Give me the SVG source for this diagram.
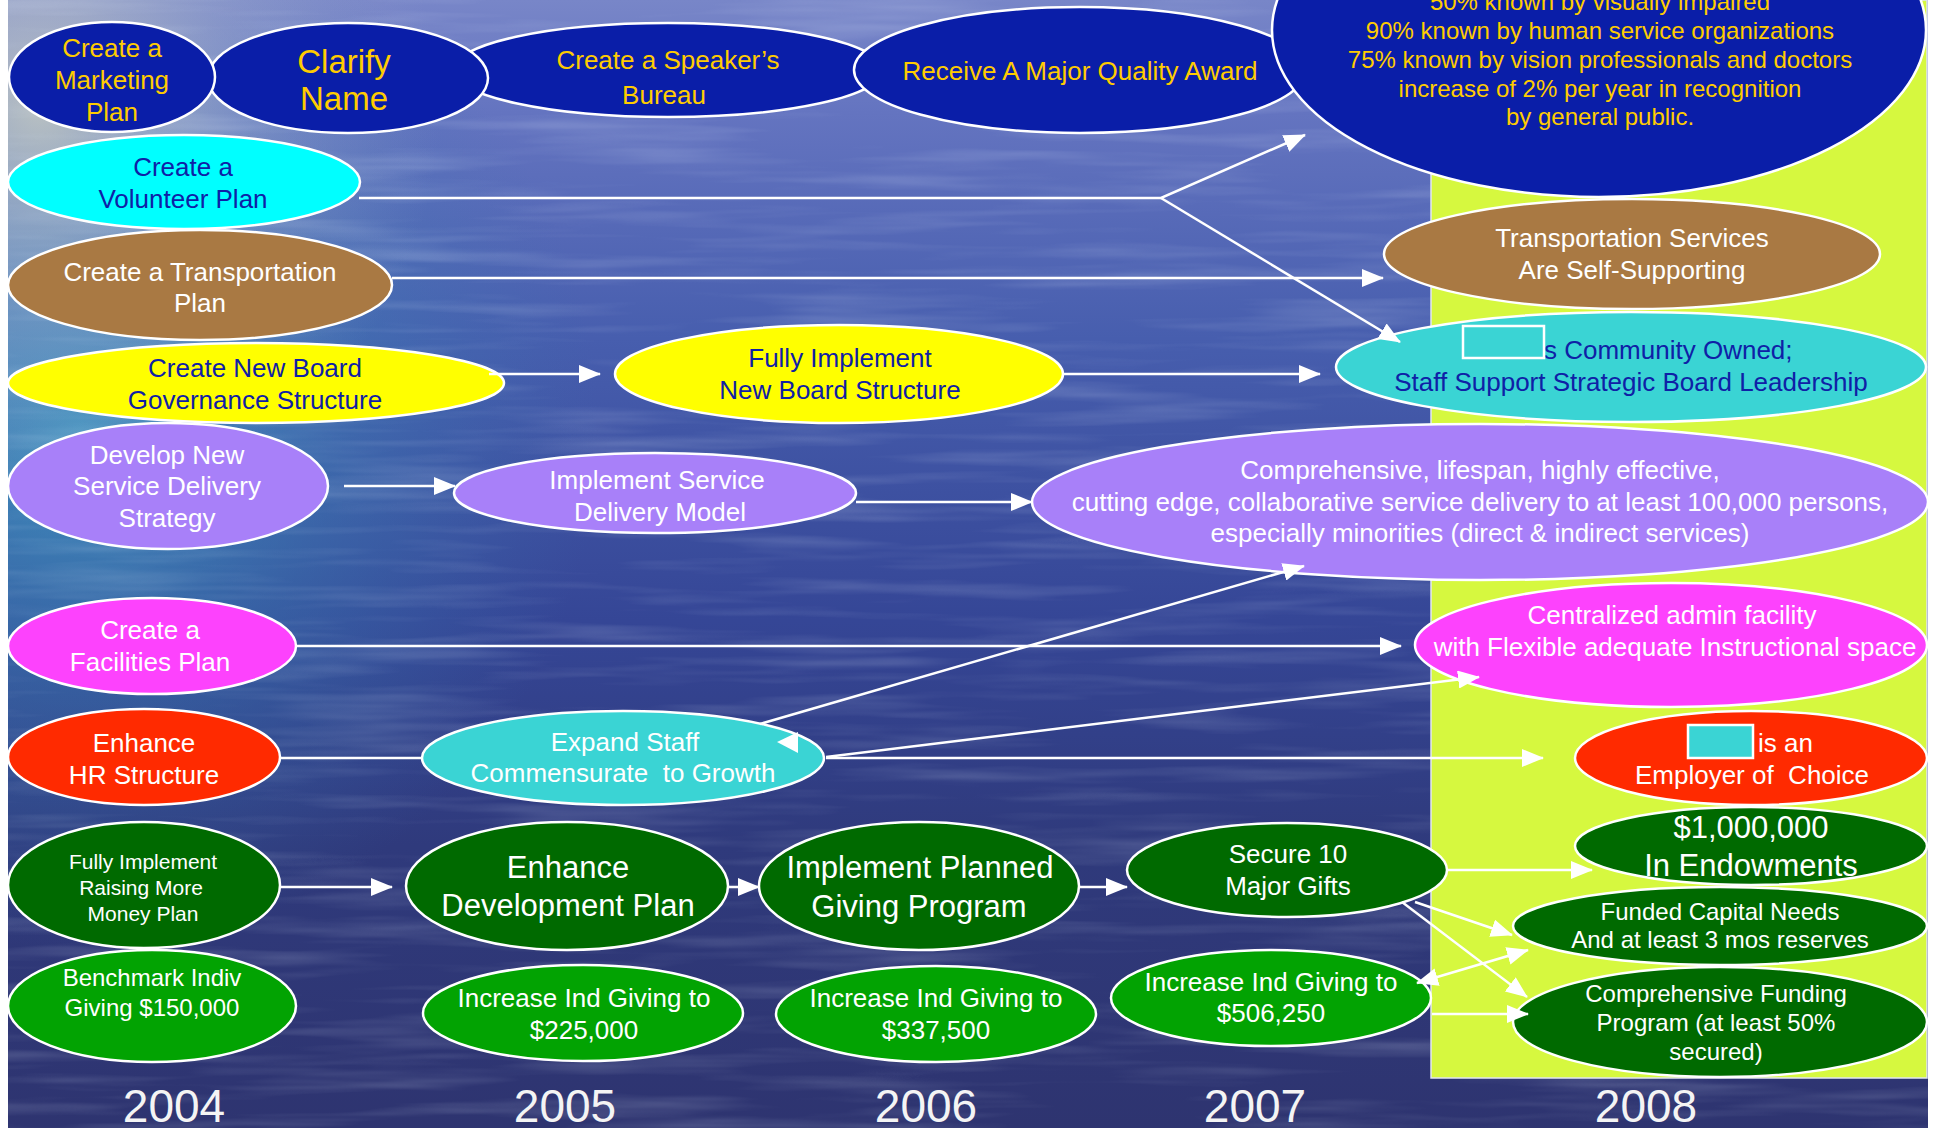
<svg xmlns="http://www.w3.org/2000/svg" width="1940" height="1129" viewBox="0 0 1940 1129">
<style>
text{font-family:"Liberation Sans",Arial,sans-serif;text-anchor:middle}
.node ellipse{stroke:#ffffff;stroke-width:2.5}
.box{stroke:#ffffff;stroke-width:2.5;fill:#3ad4d4}
.navy{fill:#0a1ea8}
.cyan{fill:#00ffff}
.brown{fill:#a97943}
.yellow{fill:#ffff00}
.turq{fill:#3ad4d4}
.purple{fill:#a880f9}
.magenta{fill:#fd42fd}
.red{fill:#ff2a00}
.dkgreen{fill:#006a00}
.green{fill:#02a302}
.tgold{fill:#ffcc00;font-size:26px}
.tnavy{fill:#0f20a6;font-size:26px}
.tw{fill:#ffffff;font-size:26px}
.year{fill:#f4f4f4;font-size:46px}
#connectors path{fill:none;stroke:#ffffff;stroke-width:2.5}
</style>
<defs>
<marker id="ah" viewBox="0 0 22 18" refX="21" refY="9" markerWidth="22" markerHeight="18" markerUnits="userSpaceOnUse" orient="auto-start-reverse">
<path d="M0,0 L22,9 L0,18 z" fill="#ffffff"/>
</marker>
<linearGradient id="sea" x1="0" y1="0" x2="0" y2="1">
<stop offset="0" stop-color="#7886c8"/>
<stop offset="0.1" stop-color="#6474c0"/>
<stop offset="0.3" stop-color="#475eae"/>
<stop offset="0.55" stop-color="#354696"/>
<stop offset="0.75" stop-color="#2f3a7c"/>
<stop offset="1" stop-color="#2e3470"/>
</linearGradient>
<radialGradient id="teal" cx="80" cy="430" r="520" gradientUnits="userSpaceOnUse">
<stop offset="0" stop-color="#3fa0c4" stop-opacity="0.8"/>
<stop offset="0.5" stop-color="#3a84b6" stop-opacity="0.4"/>
<stop offset="1" stop-color="#3a70b0" stop-opacity="0"/>
</radialGradient>
<radialGradient id="pale" cx="40" cy="110" r="400" gradientUnits="userSpaceOnUse">
<stop offset="0" stop-color="#d8d8c4" stop-opacity="0.75"/>
<stop offset="0.5" stop-color="#b8bcd2" stop-opacity="0.35"/>
<stop offset="1" stop-color="#a0a8d0" stop-opacity="0"/>
</radialGradient>
<filter id="water" x="0" y="0" width="1" height="1">
<feTurbulence type="fractalNoise" baseFrequency="0.004 0.06" numOctaves="3" seed="4"/>
<feColorMatrix type="matrix" values="0 0 0 0 0.8  0 0 0 0 0.88  0 0 0 0 1  1.3 0 0 0 -0.6"/>
</filter>
</defs>
<rect x="0" y="0" width="1940" height="1129" fill="#ffffff"/>
<g id="background">
<rect x="8" y="0" width="1920" height="1128" fill="url(#sea)"/>
<rect x="8" y="0" width="1920" height="1128" fill="url(#teal)"/>
<rect x="8" y="0" width="1920" height="1128" fill="url(#pale)"/>
<rect x="8" y="0" width="1920" height="1128" filter="url(#water)" opacity="0.3"/>
<rect id="panel2008" x="1431" y="0" width="496" height="1078" fill="#d6f83f" stroke="#e2e6f2" stroke-width="1.5"/>
</g>
<g id="n-speaker" class="node"><ellipse class="navy" cx="668" cy="70" rx="215" ry="47"/>
<text class="tgold" x="668" y="69">Create a Speaker’s</text><text class="tgold" x="664" y="104">Bureau</text></g>
<g id="n-clarify" class="node"><ellipse class="navy" cx="348" cy="78" rx="140" ry="55"/>
<text class="tgold" style="font-size:33px" x="344" y="73">Clarify</text><text class="tgold" style="font-size:33px" x="344" y="110">Name</text></g>
<g id="n-marketing" class="node"><ellipse class="navy" cx="112" cy="77" rx="103" ry="55"/>
<text class="tgold" x="112" y="57">Create a</text><text class="tgold" x="112" y="89">Marketing</text><text class="tgold" x="112" y="121">Plan</text></g>
<g id="n-award" class="node"><ellipse class="navy" cx="1080" cy="70" rx="226" ry="63"/>
<text class="tgold" x="1080" y="80">Receive A Major Quality Award</text></g>
<g id="n-recognition" class="node"><ellipse class="navy" cx="1599" cy="30" rx="327" ry="167"/>
<text class="tgold" style="font-size:24px" x="1600" y="10">50% known by visually impaired</text>
<text class="tgold" style="font-size:24px" x="1600" y="39">90% known by human service organizations</text>
<text class="tgold" style="font-size:24px" x="1600" y="68">75% known by vision professionals and doctors</text>
<text class="tgold" style="font-size:24px" x="1600" y="97">increase of 2% per year in recognition</text>
<text class="tgold" style="font-size:24px" x="1600" y="125">by general public.</text></g>
<g id="n-volunteer" class="node"><ellipse class="cyan" cx="184" cy="182" rx="176" ry="47"/>
<text class="tnavy" x="183" y="176">Create a</text><text class="tnavy" x="183" y="208">Volunteer Plan</text></g>
<g id="n-transplan" class="node"><ellipse class="brown" cx="200" cy="285" rx="192" ry="55"/>
<text class="tw" x="200" y="281">Create a Transportation</text><text class="tw" x="200" y="312">Plan</text></g>
<g id="n-transself" class="node"><ellipse class="brown" cx="1632" cy="254" rx="248" ry="55"/>
<text class="tw" x="1632" y="247">Transportation Services</text><text class="tw" x="1632" y="279">Are Self-Supporting</text></g>
<g id="n-board" class="node"><ellipse class="yellow" cx="256" cy="383" rx="248" ry="40"/>
<text class="tnavy" x="255" y="377">Create New Board</text><text class="tnavy" x="255" y="409">Governance Structure</text></g>
<g id="n-fullboard" class="node"><ellipse class="yellow" cx="839" cy="374" rx="224" ry="49"/>
<text class="tnavy" x="840" y="367">Fully Implement</text><text class="tnavy" x="840" y="399">New Board Structure</text></g>
<g id="n-community" class="node"><ellipse class="turq" cx="1631" cy="367" rx="295" ry="55"/>
<text class="tnavy" style="text-anchor:start" x="1544" y="359">s Community Owned;</text>
<text class="tnavy" x="1631" y="391">Staff Support Strategic Board Leadership</text>
<rect class="box" x="1463" y="326" width="81" height="32"/></g>
<g id="n-develop" class="node"><ellipse class="purple" cx="168" cy="486" rx="160" ry="63"/>
<text class="tw" x="167" y="464">Develop New</text><text class="tw" x="167" y="495">Service Delivery</text><text class="tw" x="167" y="527">Strategy</text></g>
<g id="n-implservice" class="node"><ellipse class="purple" cx="655" cy="493" rx="201" ry="40"/>
<text class="tw" x="657" y="489">Implement Service</text><text class="tw" x="660" y="521">Delivery Model</text></g>
<g id="n-comprehensive" class="node"><ellipse class="purple" cx="1480" cy="502" rx="448" ry="78"/>
<text class="tw" x="1480" y="479">Comprehensive, lifespan, highly effective,</text>
<text class="tw" x="1480" y="511">cutting edge, collaborative service delivery to at least 100,000 persons,</text>
<text class="tw" x="1480" y="542">especially minorities (direct &amp; indirect services)</text></g>
<g id="n-facilities" class="node"><ellipse class="magenta" cx="152" cy="646" rx="144" ry="48"/>
<text class="tw" x="150" y="639">Create a</text><text class="tw" x="150" y="671">Facilities Plan</text></g>
<g id="n-centralized" class="node"><ellipse class="magenta" cx="1671" cy="645" rx="256" ry="62"/>
<text class="tw" x="1672" y="624">Centralized admin facility</text><text class="tw" x="1675" y="656">with Flexible adequate Instructional space</text></g>
<g id="n-hr" class="node"><ellipse class="red" cx="144" cy="757" rx="136" ry="48"/>
<text class="tw" x="144" y="752">Enhance</text><text class="tw" x="144" y="784">HR Structure</text></g>
<g id="n-expand" class="node"><ellipse class="turq" cx="623" cy="758" rx="201" ry="47"/>
<text class="tw" x="625" y="751">Expand Staff</text><text class="tw" x="623" y="782" xml:space="preserve">Commensurate  to Growth</text></g>
<g id="n-employer" class="node"><ellipse class="red" cx="1751" cy="758" rx="176" ry="47"/>
<text class="tw" style="text-anchor:start" x="1758" y="752">is an</text>
<text class="tw" x="1752" y="784" xml:space="preserve">Employer of  Choice</text>
<rect class="box" x="1688" y="725" width="65" height="33"/></g>
<g id="n-raising" class="node"><ellipse class="dkgreen" cx="144" cy="885" rx="136" ry="63"/>
<text class="tw" style="font-size:21px" x="143" y="869">Fully Implement</text><text class="tw" style="font-size:21px" x="141" y="895">Raising More</text><text class="tw" style="font-size:21px" x="143" y="921">Money Plan</text></g>
<g id="n-benchmark" class="node"><ellipse class="green" cx="152" cy="1006" rx="144" ry="56"/>
<text class="tw" style="font-size:24px" x="152" y="986">Benchmark Indiv</text><text class="tw" style="font-size:24px" x="152" y="1016">Giving $150,000</text></g>
<g id="n-enhancedev" class="node"><ellipse class="dkgreen" cx="567" cy="886" rx="161" ry="64"/>
<text class="tw" style="font-size:31px" x="568" y="878">Enhance</text><text class="tw" style="font-size:31px" x="568" y="916">Development Plan</text></g>
<g id="n-planned" class="node"><ellipse class="dkgreen" cx="919" cy="886" rx="160" ry="64"/>
<text class="tw" style="font-size:31px" x="920" y="878">Implement Planned</text><text class="tw" style="font-size:31px" x="919" y="917">Giving Program</text></g>
<g id="n-secure" class="node"><ellipse class="dkgreen" cx="1287" cy="870" rx="160" ry="47"/>
<text class="tw" x="1288" y="863">Secure 10</text><text class="tw" x="1288" y="895">Major Gifts</text></g>
<g id="n-inc225" class="node"><ellipse class="green" cx="583" cy="1013" rx="160" ry="48"/>
<text class="tw" x="584" y="1007">Increase Ind Giving to</text><text class="tw" x="584" y="1039">$225,000</text></g>
<g id="n-inc337" class="node"><ellipse class="green" cx="936" cy="1014" rx="160" ry="48"/>
<text class="tw" x="936" y="1007">Increase Ind Giving to</text><text class="tw" x="936" y="1039">$337,500</text></g>
<g id="n-inc506" class="node"><ellipse class="green" cx="1271" cy="998" rx="160" ry="48"/>
<text class="tw" x="1271" y="991">Increase Ind Giving to</text><text class="tw" x="1271" y="1022">$506,250</text></g>
<g id="n-endow" class="node"><ellipse class="dkgreen" cx="1751" cy="846" rx="176" ry="39"/>
<text class="tw" style="font-size:31px" x="1751" y="838">$1,000,000</text><text class="tw" style="font-size:31px" x="1751" y="876">In Endowments</text></g>
<g id="n-capital" class="node"><ellipse class="dkgreen" cx="1720" cy="926" rx="207" ry="39"/>
<text class="tw" style="font-size:24px" x="1720" y="920">Funded Capital Needs</text><text class="tw" style="font-size:24px" x="1720" y="948">And at least 3 mos reserves</text></g>
<g id="n-funding" class="node"><ellipse class="dkgreen" cx="1720" cy="1022" rx="207" ry="55"/>
<text class="tw" style="font-size:24px" x="1716" y="1002">Comprehensive Funding</text><text class="tw" style="font-size:24px" x="1716" y="1031">Program (at least 50%</text><text class="tw" style="font-size:24px" x="1716" y="1060">secured)</text></g>
<g id="years">
<text class="year" x="174" y="1122">2004</text>
<text class="year" x="565" y="1122">2005</text>
<text class="year" x="926" y="1122">2006</text>
<text class="year" x="1255" y="1122">2007</text>
<text class="year" x="1646" y="1122">2008</text>
</g>
<g id="connectors">
<path d="M359,198 H1161 L1305,135" marker-end="url(#ah)"/>
<path d="M1161,198 L1400,342" marker-end="url(#ah)"/>
<path d="M392,278 H1383" marker-end="url(#ah)"/>
<path d="M489,374 H600" marker-end="url(#ah)"/>
<path d="M1063,374 H1320" marker-end="url(#ah)"/>
<path d="M344,486 H455" marker-end="url(#ah)"/>
<path d="M856,502 H1032" marker-end="url(#ah)"/>
<path d="M296,646 H1401" marker-end="url(#ah)"/>
<path d="M280,758 H423"/>
<path d="M760,724 L1304,566" marker-end="url(#ah)"/>
<path d="M826,757 L1479,677" marker-end="url(#ah)"/>
<path d="M826,758 H1543" marker-end="url(#ah)"/>
<path d="M280,887 H392" marker-end="url(#ah)"/>
<path d="M728,887 H759" marker-end="url(#ah)"/>
<path d="M1079,887 H1127" marker-end="url(#ah)"/>
<path d="M1447,870 H1592" marker-end="url(#ah)"/>
<path d="M1415,902 L1512,935" marker-end="url(#ah)"/>
<path d="M1402,902 L1527,997" marker-end="url(#ah)"/>
<path d="M1417,983 L1528,950" marker-start="url(#ah)" marker-end="url(#ah)"/>
<path d="M1432,1014 H1528" marker-end="url(#ah)"/>
<polygon points="777,742 798,732 798,753" fill="#ffffff"/>
</g>
</svg>
